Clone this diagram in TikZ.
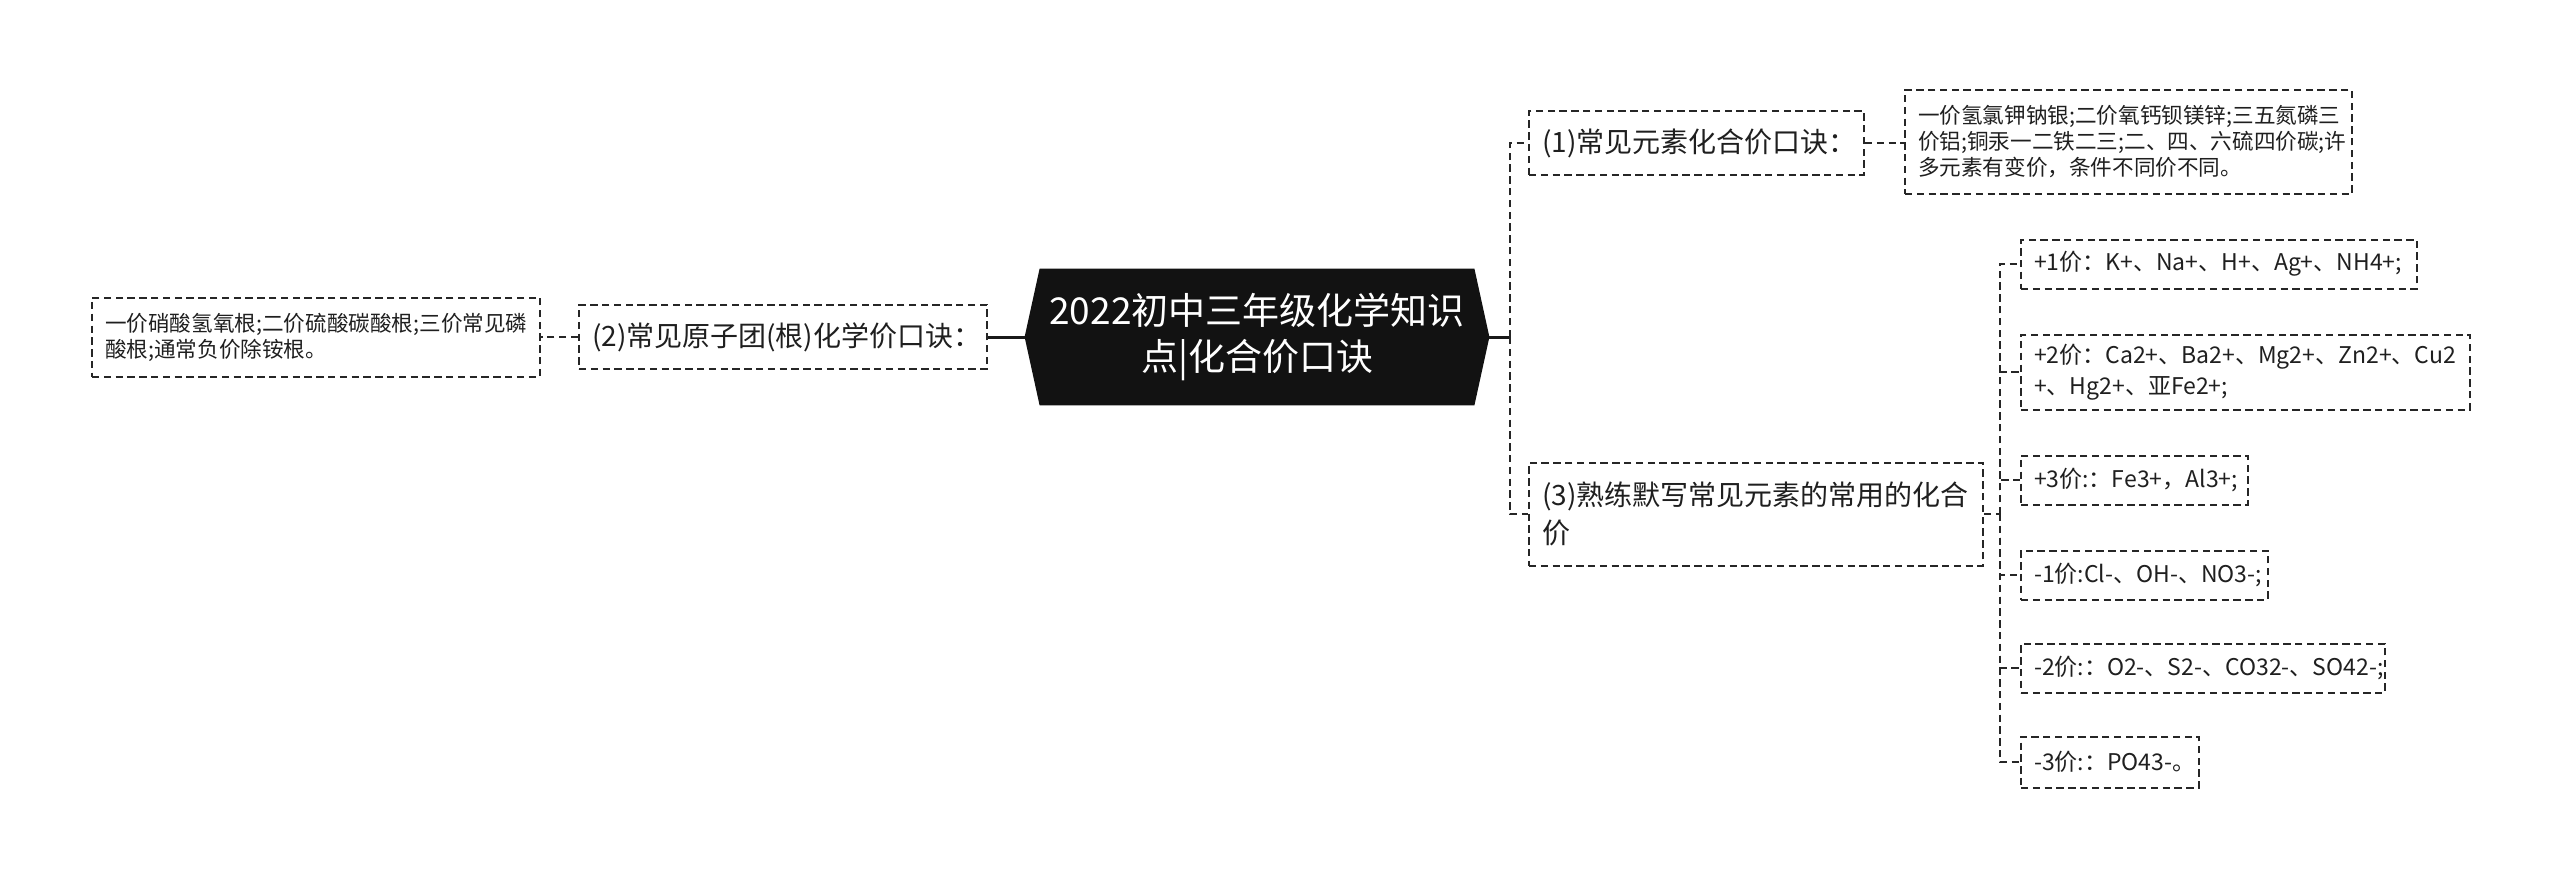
\documentclass[tikz,border=0pt]{standalone}
\usepackage{fontspec}
\setmainfont{Noto Sans CJK SC}
\usetikzlibrary{backgrounds}
\newcommand{\oneline}[1]{\mbox{#1}}
\tikzset{
  box/.style={draw=black!85, line width=1pt, dash pattern=on 3.7pt off 2.2pt, anchor=west, align=left,
    inner xsep=6.5pt, inner ysep=0pt, text=black!88},
  bigtext/.style={font=\fontsize{14}{18.75}\selectfont},
  smalltext/.style={font=\fontsize{10.8}{13}\selectfont},
  midtext/.style={font=\fontsize{11.5}{15.5}\selectfont},
  dashline/.style={draw=black!85, line width=1pt, dash pattern=on 3.7pt off 2.2pt},
  solidline/.style={draw=black!90, line width=1.5pt},
  centre/.style={text=white, align=center, minimum width=232pt, minimum height=68pt, inner sep=0pt,
    font=\fontsize{18.5}{22.9}\selectfont},
}
\begin{document}
\begin{tikzpicture}[x=0.5pt,y=-0.5pt]
\useasboundingbox (0,0) rectangle (2560,879);
% central
\node[centre] (c) at (1257,337) {\oneline{2022初中三年级化学知识}\\\oneline{点|化合价口诀}};
\begin{scope}[on background layer]
\fill[black!93] (c.west) -- ([xshift=7.5pt]c.north west) -- ([xshift=-7.5pt]c.north east) -- (c.east)
  -- ([xshift=-7.5pt]c.south east) -- ([xshift=7.5pt]c.south west) -- cycle;
\end{scope}
% left branch
\node[box,bigtext,minimum width=204pt,minimum height=32pt,text width=191pt] (n2) at (578,337) {\oneline{(2)常见原子团(根)化学价口诀：}};
\node[box,smalltext,minimum width=224pt,minimum height=39.5pt,text width=211pt] (l2) at (91,337) {\oneline{一价硝酸氢氧根;二价硫酸碳酸根;三价常见磷}\\\oneline{酸根;通常负价除铵根。}};
% right branch
\node[box,bigtext,minimum width=167.5pt,minimum height=32pt,text width=154.5pt] (n1) at (1528,143) {\oneline{(1)常见元素化合价口诀：}};
\node[box,smalltext,minimum width=223.5pt,minimum height=52pt,text width=210.5pt] (l1) at (1904,142) {\oneline{一价氢氯钾钠银;二价氧钙钡镁锌;三五氮磷三}\\\oneline{价铝;铜汞一二铁二三;二、四、六硫四价碳;许}\\\oneline{多元素有变价，条件不同价不同。}};
\node[box,bigtext,minimum width=227pt,minimum height=51.5pt,text width=214pt] (n3) at (1528,514) {\oneline{(3)熟练默写常见元素的常用的化合}\\\oneline{价}};
% children of (3)
\node[box,midtext,minimum width=198pt,minimum height=24.5pt,text width=185pt] (a) at (2020,264) {\oneline{+1价：K+、Na+、H+、Ag+、NH4+;}};
\node[box,midtext,minimum width=224.5pt,minimum height=37.5pt,text width=211.5pt] (b) at (2020,372) {\oneline{+2价：Ca2+、Ba2+、Mg2+、Zn2+、Cu2}\\\oneline{+、Hg2+、亚Fe2+;}};
\node[box,midtext,minimum width=113.5pt,minimum height=24.5pt,text width=100.5pt] (d3) at (2020,480) {\oneline{+3价:：Fe3+，Al3+;}};
\node[box,midtext,minimum width=123.5pt,minimum height=24.5pt,text width=110.5pt] (m1) at (2020,575) {\oneline{-1价:Cl-、OH-、NO3-;}};
\node[box,midtext,minimum width=182pt,minimum height=24.5pt,text width=169pt] (m2) at (2020,668) {\oneline{-2价:：O2-、S2-、CO32-、SO42-;}};
\node[box,midtext,minimum width=89pt,minimum height=25.5pt,text width=76pt] (m3) at (2020,762) {\oneline{-3价:：PO43-。}};
% connectors
\coordinate (s1) at (1510,337);
\coordinate (s2) at (2000,514);
\draw[solidline] (c.west) -- (n2.east);
\draw[dashline] (n2.west) -- (l2.east);
\draw[solidline] (c.east) -- (s1);
\draw[dashline] (s1) |- (n1.west);
\draw[dashline] (s1) |- (n3.west);
\draw[dashline] (n1.east) -- (n1.east -| l1.west);
\draw[dashline] (n3.east) -- (s2);
\foreach \k in {a,b,d3,m1,m2,m3} \draw[dashline] (s2) |- (\k.west);
\end{tikzpicture}
\end{document}
